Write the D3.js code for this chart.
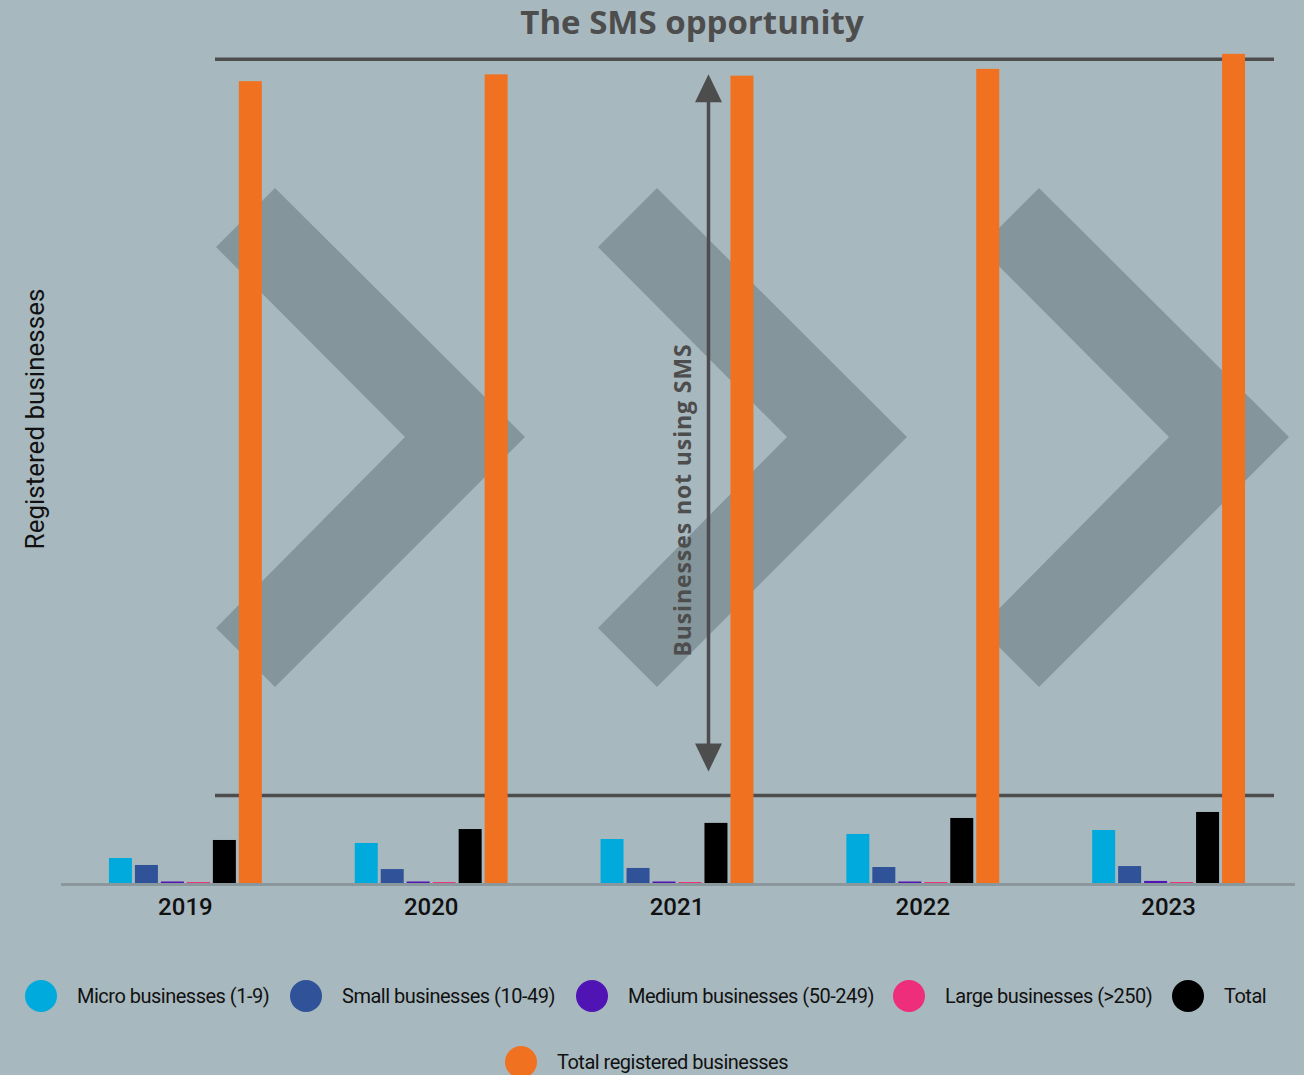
<!DOCTYPE html>
<html>
<head>
<meta charset="utf-8">
<script src="https://cdn.jsdelivr.net/npm/d3@7"></script>
<style>
  html, body { margin: 0; padding: 0; background: #a8b8bf; }
  svg { display: block; }
</style>
</head>
<body>
<svg id="chart" width="1304" height="1075"></svg>
<script>
// ---- Data (millions of businesses) ----
const years = ["2019", "2020", "2021", "2022", "2023"];
const seriesNames = ["Micro businesses (1-9)", "Small businesses (10-49)", "Medium businesses (50-249)", "Large businesses (>250)", "Total", "Total registered businesses"];
const microValues = [0.183, 0.293, 0.322, 0.359, 0.388];
const smallValues = [0.132, 0.102, 0.110, 0.117, 0.124];
const mediumValues = [0.011, 0.011, 0.011, 0.011, 0.015];
const largeValues = [0.007, 0.007, 0.007, 0.007, 0.007];
const totalValues = [0.315, 0.395, 0.440, 0.476, 0.520];
const registeredValues = [5.87, 5.92, 5.91, 5.96, 6.07];
const seriesColors = ["#00aadd", "#2f5298", "#5014b4", "#ee2e7a", "#000000", "#f07221"];
const referenceLines = [6.03, 0.64]; // top / bottom of the "not using SMS" band
const titleText = "The SMS opportunity";
const yAxisTitle = "Registered businesses";
const arrowLabel = "Businesses not using SMS";

const allSeries = [microValues, smallValues, mediumValues, largeValues, totalValues, registeredValues];

const svg = d3.select("#chart");
const W = 1304, H = 1075;
svg.append("rect").attr("width", W).attr("height", H).attr("fill", "#a8b8bf");

const plotLeft = 62, plotRight = 1292, baseY = 883;
const x0 = d3.scaleBand().domain(years).range([plotLeft, plotRight]).paddingInner(0.378).paddingOuter(0.191);
const x1 = d3.scaleBand().domain(seriesNames).range([0, x0.bandwidth()]).paddingInner(0.115).paddingOuter(0);
const y = d3.scaleLinear().domain([0, 6]).range([baseY, baseY - 6 * 136.6]);

// ---- Background chevrons ----
const chevG = svg.append("g").attr("fill", "#84959b");
[0, 1, 2].forEach(i => {
  const dx = 216 + i * 382;
  const pts = [[0, 247], [59, 188], [309, 437], [59, 687], [0, 628], [189, 437]]
    .map(p => [p[0] + dx, p[1]]);
  chevG.append("polygon").attr("points", pts.map(p => p.join(",")).join(" "));
});

// ---- Reference lines ----
const lineG = svg.append("g");
referenceLines.forEach(v => {
  lineG.append("line")
    .attr("x1", 215).attr("x2", 1274)
    .attr("y1", y(v)).attr("y2", y(v))
    .attr("stroke", "#4d4d4d").attr("stroke-width", 3.5);
});

// ---- Double arrow ----
const ax = 708.5;
const topTip = y(referenceLines[0]) + 15, botTip = y(referenceLines[1]) - 24;
const arrowG = svg.append("g").attr("fill", "#4d4d4d");
arrowG.append("line").attr("x1", ax).attr("x2", ax).attr("y1", topTip + 20).attr("y2", botTip - 20)
  .attr("stroke", "#4d4d4d").attr("stroke-width", 3.5);
arrowG.append("polygon").attr("points", `${ax},${topTip} ${ax - 13.5},${topTip + 28} ${ax + 13.5},${topTip + 28}`);
arrowG.append("polygon").attr("points", `${ax},${botTip} ${ax - 13.5},${botTip - 28} ${ax + 13.5},${botTip - 28}`);

svg.append("text")
  .attr("transform", `translate(691,500) rotate(-90)`)
  .attr("text-anchor", "middle")
  .attr("font-family", "'Open Sans', sans-serif")
  .attr("font-weight", 700)
  .attr("font-size", 23)
  .attr("letter-spacing", 0.9)
  .attr("fill", "#4d4d4d")
  .text(arrowLabel);

// ---- Axis baseline ----
svg.append("line").attr("x1", 61).attr("x2", 1295).attr("y1", baseY + 1.5).attr("y2", baseY + 1.5)
  .attr("stroke", "#8a979d").attr("stroke-width", 3);

// ---- Bars ----
const barG = svg.append("g");
years.forEach((yr, i) => {
  seriesNames.forEach((s, j) => {
    const v = allSeries[j][i];
    barG.append("rect")
      .attr("x", x0(yr) + x1(s))
      .attr("width", x1.bandwidth())
      .attr("y", y(v))
      .attr("height", baseY - y(v))
      .attr("fill", seriesColors[j]);
  });
});

// ---- X axis labels ----
const xAxis = d3.axisBottom(x0).tickSize(0).tickPadding(0);
const xg = svg.append("g").attr("transform", `translate(0,${baseY})`).call(xAxis);
xg.select(".domain").remove();
xg.selectAll("text")
  .attr("y", 32).attr("dy", 0)
  .attr("font-family", "Roboto, sans-serif")
  .attr("font-weight", 500)
  .attr("font-size", 24)
  .attr("fill", "#111");

// ---- Title ----
svg.append("text")
  .attr("x", 692).attr("y", 34)
  .attr("text-anchor", "middle")
  .attr("font-family", "'Open Sans', sans-serif")
  .attr("font-weight", 700)
  .attr("font-size", 33)
  .attr("fill", "#4d4d4d")
  .text(titleText);

// ---- Y axis title ----
svg.append("text")
  .attr("transform", "translate(44,419) rotate(-90)")
  .attr("text-anchor", "middle")
  .attr("font-family", "Roboto, sans-serif")
  .attr("font-size", 26)
  .attr("fill", "#111")
  .text(yAxisTitle);

// ---- Legend ----
const legendPos = [[41, 996], [306, 996], [592, 996], [909, 996], [1188, 996], [521, 1062]];
const legG = svg.append("g");
seriesNames.forEach((s, j) => {
  const [cx, cy] = legendPos[j];
  legG.append("circle").attr("cx", cx).attr("cy", cy).attr("r", 16).attr("fill", seriesColors[j]);
  legG.append("text")
    .attr("x", cx + 36).attr("y", cy).attr("dy", "0.35em")
    .attr("font-family", "Roboto, sans-serif")
    .attr("font-size", 20)
    .attr("letter-spacing", -0.5)
    .attr("fill", "#111")
    .text(s);
});
</script>
</body>
</html>
